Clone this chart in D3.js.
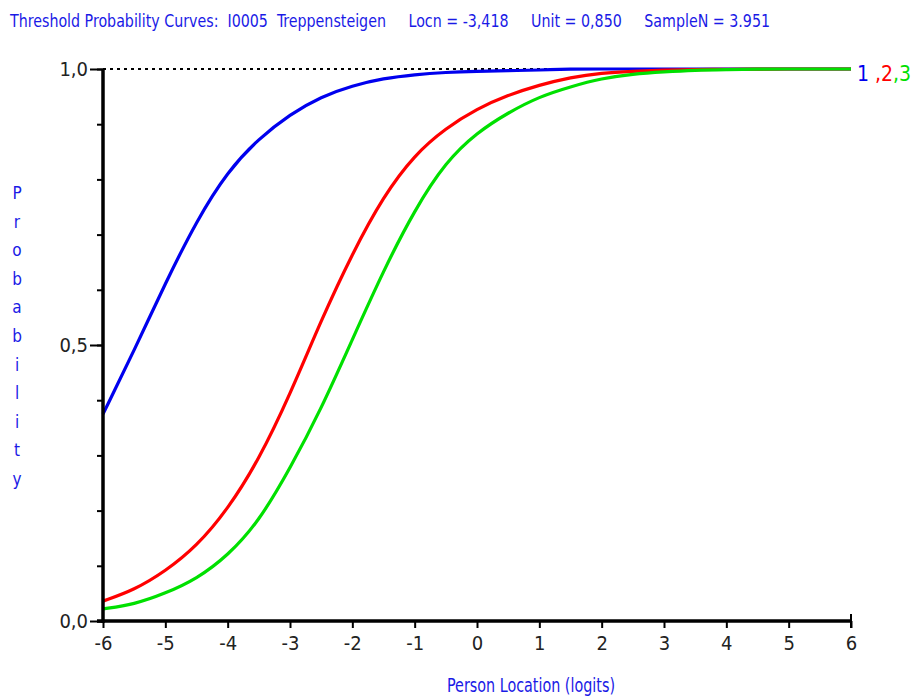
<!DOCTYPE html>
<html>
<head>
<meta charset="utf-8">
<script src="https://cdn.jsdelivr.net/npm/d3@7"></script>
<style>
  html, body { margin: 0; padding: 0; background: #fff; }
  svg { display: block; }
  text { font-family: "DejaVu Sans", sans-serif; font-stretch: condensed; white-space: pre; }
</style>
</head>
<body>
<svg id="chart" width="921" height="697"></svg>
<script>
// ---- data ----
const titleText = "Threshold Probability Curves:  I0005  Treppensteigen     Locn = -3,418     Unit = 0,850     SampleN = 3.951";
const xLabel = "Person Location (logits)";
const yLabel = "Probability";
const xTicks = [-6, -5, -4, -3, -2, -1, 0, 1, 2, 3, 4, 5, 6];
const yTickLabels = ["0,0", "0,5", "1,0"];
const yTickValues = [0, 0.5, 1];
const locations = [-6, -5.5, -5, -4.5, -4, -3.5, -3, -2.5, -2, -1.5, -1, -0.5, 0, 0.5, 1, 1.5, 2, 2.5, 3, 3.5, 4, 4.5, 5, 5.5, 6];
const threshold1 = [0.375, 0.490, 0.612, 0.725, 0.815, 0.874, 0.918, 0.950, 0.970, 0.983, 0.990, 0.994, 0.996, 0.997, 0.998, 1.0, 1.0, 1.0, 1.0, 1.0, 1.0, 1.0, 1.0, 1.0, 1.0];
const threshold2 = [0.036, 0.056, 0.090, 0.135, 0.202, 0.292, 0.410, 0.545, 0.666, 0.770, 0.845, 0.893, 0.928, 0.953, 0.971, 0.985, 0.993, 0.996, 0.998, 0.999, 0.9995, 1.0, 1.0, 1.0, 1.0];
const threshold3 = [0.022, 0.030, 0.050, 0.076, 0.118, 0.180, 0.276, 0.384, 0.510, 0.635, 0.745, 0.832, 0.885, 0.921, 0.950, 0.968, 0.983, 0.991, 0.995, 0.998, 0.999, 1.0, 1.0, 1.0, 1.0];
const seriesNames = ["1", "2", "3"];
const seriesColors = ["#0000ee", "#ff0000", "#00e000"];

// ---- layout ----
const svg = d3.select("#chart");
const x = d3.scaleLinear().domain([-6, 6]).range([103, 851]);
const y = d3.scaleLinear().domain([0, 1]).range([621, 69]);
const blue = "#1a1ae6";

// title
svg.append("text")
  .attr("x", 10).attr("y", 27)
  .attr("textLength", 760).attr("lengthAdjust", "spacingAndGlyphs")
  .attr("font-size", 17).attr("fill", blue)
  .attr("xml:space", "preserve")
  .text(titleText);

// dotted line at 1.0
svg.append("line")
  .attr("x1", x(-6)).attr("x2", x(6))
  .attr("y1", y(1)).attr("y2", y(1))
  .attr("stroke", "#000").attr("stroke-width", 2)
  .attr("stroke-dasharray", "3,4");

// curves
const series = [threshold1, threshold2, threshold3];
const line = d3.line()
  .x((d, i) => x(locations[i]))
  .y(d => y(d))
  .curve(d3.curveBasis);
series.forEach((s, k) => {
  svg.append("path")
    .datum(s)
    .attr("d", line)
    .attr("fill", "none")
    .attr("stroke", seriesColors[k])
    .attr("stroke-width", 3.2);
});

// x axis
const xAxis = d3.axisBottom(x).tickValues(xTicks).tickSize(7).tickPadding(8)
  .tickFormat(d => d < 0 ? "-" + Math.abs(d) : String(d));
const gx = svg.append("g").attr("transform", `translate(0,${y(0)})`).call(xAxis);
gx.select(".domain").remove();
gx.selectAll(".tick line").attr("stroke", "#000").attr("stroke-width", 2);
gx.selectAll(".tick text").attr("font-size", 20).attr("fill", "#222")
  .attr("font-family", null);
svg.append("line")
  .attr("x1", x(-6) - 6).attr("x2", x(6))
  .attr("y1", y(0)).attr("y2", y(0))
  .attr("stroke", "#000").attr("stroke-width", 3.5);
// end cap at 6
svg.append("line")
  .attr("x1", x(6)).attr("x2", x(6))
  .attr("y1", y(0) - 7).attr("y2", y(0) + 7)
  .attr("stroke", "#000").attr("stroke-width", 2);

// y axis: minor ticks every 0.1
const yMinor = d3.range(0, 11).map(i => i / 10);
const gyMinor = svg.append("g").attr("transform", `translate(${x(-6)},0)`)
  .call(d3.axisLeft(y).tickValues(yMinor).tickSize(6).tickFormat(""));
gyMinor.select(".domain").remove();
gyMinor.selectAll(".tick line").attr("stroke", "#000").attr("stroke-width", 2);

const gy = svg.append("g").attr("transform", `translate(${x(-6)},0)`)
  .call(d3.axisLeft(y).tickValues(yTickValues).tickSize(13).tickPadding(2)
    .tickFormat((d, i) => yTickLabels[i]));
gy.select(".domain").remove();
gy.selectAll(".tick line").attr("stroke", "#000").attr("stroke-width", 2);
gy.selectAll(".tick text").attr("font-size", 20).attr("fill", "#222")
  .attr("font-family", null);

svg.append("line")
  .attr("x1", x(-6)).attr("x2", x(-6))
  .attr("y1", y(1)).attr("y2", y(0) + 2)
  .attr("stroke", "#000").attr("stroke-width", 3.5);

// y label (stacked letters)
const letters = yLabel.split("");
svg.append("text")
  .attr("font-size", 17).attr("fill", blue).attr("text-anchor", "middle")
  .selectAll("tspan").data(letters).join("tspan")
  .attr("x", 17)
  .attr("y", (d, i) => 199 + i * 28.6)
  .text(d => d);

// x label
svg.append("text")
  .attr("x", 447).attr("y", 692)
  .attr("textLength", 168).attr("lengthAdjust", "spacingAndGlyphs")
  .attr("font-size", 19).attr("fill", blue)
  .text(xLabel);

// legend
const leg = svg.append("text").attr("x", 857).attr("y", 81).attr("font-size", 21);
seriesNames.forEach((n, i) => {
  if (i > 0) leg.append("tspan").attr("fill", seriesColors[i]).attr("dx", i === 1 ? 6 : 0).text(",");
  leg.append("tspan").attr("fill", seriesColors[i]).text(n);
});
</script>
</body>
</html>
